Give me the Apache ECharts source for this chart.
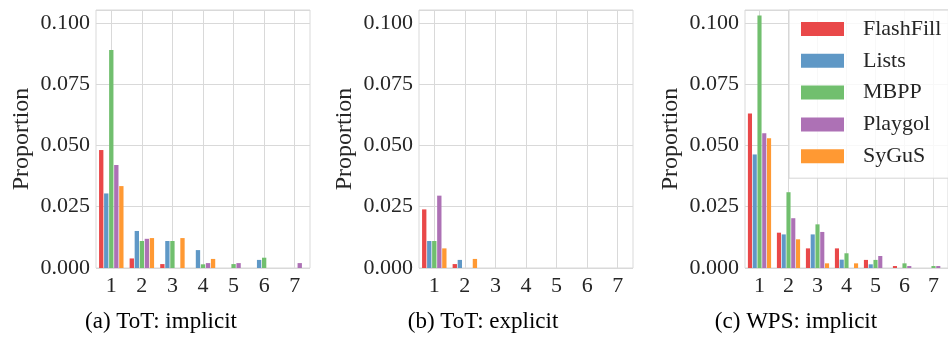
<!DOCTYPE html>
<html>
<head>
<meta charset="utf-8">
<script src="https://cdn.jsdelivr.net/npm/echarts@6/dist/echarts.min.js"></script>
</head>
<body style="margin:0;background:#fff">
<div id="chart" style="width:948px;height:345px"></div>
<script>
const categories = ['1', '2', '3', '4', '5', '6', '7']
const methods = ['FlashFill', 'Lists', 'MBPP', 'Playgol', 'SyGuS']
const yTicks = [0, 0.025, 0.05, 0.075, 0.1]

// (a) ToT: implicit
const flashFillA = [0.0481, 0.0039, 0.0016, 0, 0, 0, 0]
const listsA = [0.0304, 0.0151, 0.0110, 0.0073, 0, 0.0033, 0]
const mbppA = [0.0889, 0.0110, 0.0110, 0.0015, 0.0016, 0.0042, 0]
const playgolA = [0.0420, 0.0119, 0, 0.0020, 0.0020, 0, 0.0020]
const sygusA = [0.0334, 0.0122, 0.0122, 0.0037, 0, 0, 0]

// (b) ToT: explicit
const flashFillB = [0.0239, 0.0016, 0, 0, 0, 0, 0]
const listsB = [0.0110, 0.0033, 0, 0, 0, 0, 0]
const mbppB = [0.0110, 0, 0, 0, 0, 0, 0]
const playgolB = [0.0295, 0, 0, 0, 0, 0, 0]
const sygusB = [0.0080, 0.0037, 0, 0, 0, 0, 0]

// (c) WPS: implicit
const flashFillC = [0.0630, 0.0144, 0.0080, 0.0080, 0.0033, 0.0008, 0]
const listsC = [0.0463, 0.0137, 0.0137, 0.0034, 0.0015, 0, 0]
const mbppC = [0.1030, 0.0309, 0.0178, 0.0060, 0.0033, 0.0019, 0.0008]
const playgolC = [0.0549, 0.0203, 0.0147, 0, 0.0049, 0.0008, 0.0008]
const sygusC = [0.0529, 0.0117, 0.0019, 0.0019, 0, 0, 0]

const subtitles = ['(a) ToT: implicit', '(b) ToT: explicit', '(c) WPS: implicit']

const panels = [
    [flashFillA, listsA, mbppA, playgolA, sygusA],
    [flashFillB, listsB, mbppB, playgolB, sygusB],
    [flashFillC, listsC, mbppC, playgolC, sygusC],
]
const colors = ['#e94849', '#5f98c6', '#71bf6e', '#ad71b5', '#ff9933']

const serif = 'Liberation Serif'
const gridColor = '#d9d9d9'

let grids = [
    { left: 96, right: 638, top: 10, bottom: 77 },
    { left: 419, right: 315, top: 10, bottom: 77 },
    { left: 745, right: -5, top: 10, bottom: 77 },
]
grids.forEach(g => {
    g.show = true
    g.borderColor = gridColor
    g.borderWidth = 1
    g.containLabel = false
})

let xAxis = grids.map((g, i) => ({
    type: 'category',
    gridIndex: i,
    data: categories,
    axisLine: { show: false },
    axisTick: { show: false },
    axisLabel: { fontFamily: serif, fontSize: 22, color: '#262626', margin: 7 },
    // grid lines through the category centres, like seaborn
    splitLine: { show: true, alignWithLabel: true, lineStyle: { color: gridColor, width: 1 } },
}))

let yAxis = grids.map((g, i) => ({
    type: 'value',
    gridIndex: i,
    min: 0,
    max: 0.1052,
    interval: 0.025,
    name: 'Proportion',
    nameLocation: 'middle',
    nameGap: 62,
    nameTextStyle: { fontFamily: serif, fontSize: 24, color: '#262626' },
    axisLine: { show: false },
    axisTick: { show: false },
    axisLabel: {
        fontFamily: serif, fontSize: 22, color: '#262626', margin: 6,
        showMaxLabel: false,
        formatter: v => v.toFixed(3),
    },
    splitLine: { show: true, lineStyle: { color: gridColor, width: 1 } },
}))

let series = []
panels.forEach((panel, p) => {
    panel.forEach((values, m) => {
        series.push({
            type: 'bar',
            name: methods[m],
            xAxisIndex: p,
            yAxisIndex: p,
            data: values,
            barGap: '16%',
            barCategoryGap: '20%',
            itemStyle: { color: colors[m] },
            animation: false,
        })
    })
})

let chart = echarts.init(document.getElementById('chart'))
chart.setOption({
    animation: false,
    grid: grids,
    xAxis,
    yAxis,
    series,
    legend: {
        data: methods,
        orient: 'vertical',
        left: 789,
        top: 10,
        icon: 'rect',
        itemWidth: 43,
        itemHeight: 14,
        itemGap: 9.8,
        padding: [8, 24, 11, 12],
        backgroundColor: 'rgba(255,255,255,0.8)',
        borderColor: '#d5d5d5',
        borderWidth: 1,
        textStyle: { fontFamily: serif, fontSize: 22, color: '#262626', lineHeight: 22, padding: [0, 0, 0, 14] },
    },
    graphic: subtitles.map((t, i) => ({
        type: 'text',
        x: [161, 483, 796][i],
        y: 322,
        style: { text: t, fontFamily: serif, fontSize: 23, fill: '#000', textAlign: 'center', textVerticalAlign: 'middle' },
    })),
})
</script>
</body>
</html>
